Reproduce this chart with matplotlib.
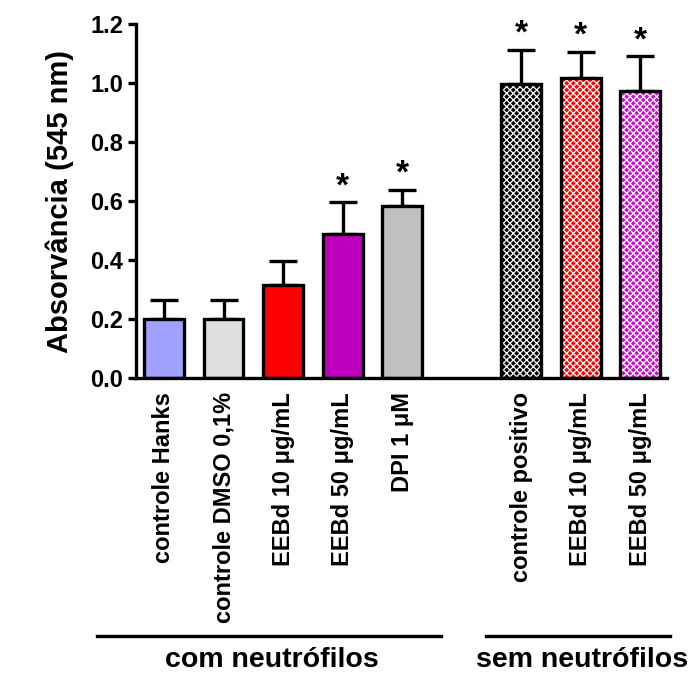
import matplotlib
matplotlib.use("Agg")
import matplotlib.pyplot as plt
import matplotlib.transforms as mtransforms

plt.rcParams['font.family'] = ['Liberation Sans', 'DejaVu Sans']
plt.rcParams['font.weight'] = 'bold'
plt.rcParams['hatch.linewidth'] = 0.9

# bar positions (slot 5 left empty between the two groups)
positions = [0, 1, 2, 3, 4, 6, 7, 8]
labels = ["controle Hanks", "controle DMSO 0,1%", "EEBd 10 \u03bcg/mL",
          "EEBd 50 \u03bcg/mL", "DPI 1 \u03bcM",
          "controle positivo", "EEBd 10 \u03bcg/mL", "EEBd 50 \u03bcg/mL"]
means = [0.200, 0.200, 0.317, 0.488, 0.583, 0.997, 1.017, 0.973]
sem = [0.065, 0.065, 0.080, 0.108, 0.056, 0.115, 0.088, 0.117]
significant = [False, False, False, True, True, True, True, True]
colors = ["#A0A0FF", "#E0E0E0", "#FF0000", "#C000C0", "#C0C0C0",
          "#000000", "#FF0000", "#CC11CC"]
hatched = [False, False, False, False, False, True, True, True]

fig = plt.figure(figsize=(6.91, 6.73), dpi=100)
ax = fig.add_axes([0.1968, 0.4383, 0.7685, 0.526])

width = 0.67
for x, m, c, h in zip(positions, means, colors, hatched):
    if h:
        ax.bar(x, m, width, color=c, edgecolor="white", hatch="xxxxx",
               linewidth=0, zorder=2)
    else:
        ax.bar(x, m, width, color=c, linewidth=0, zorder=2)
    ax.bar(x, m, width, fill=False, edgecolor="black", linewidth=2.4, zorder=3)

# upper error bars only
ax.errorbar(positions, means, yerr=[[0] * len(sem), sem], fmt="none",
            ecolor="black", elinewidth=2.4, capsize=10, capthick=2.4, zorder=1)

for x, m, s, sig in zip(positions, means, sem, significant):
    if sig:
        ax.text(x, m + s, "*", ha="center", va="bottom",
                fontsize=24, fontweight="bold")

ax.set_xlim(-0.47, 8.45)
ax.set_ylim(0, 1.2)
ax.set_yticks([0.0, 0.2, 0.4, 0.6, 0.8, 1.0, 1.2])
ax.set_yticklabels(["0.0", "0.2", "0.4", "0.6", "0.8", "1.0", "1.2"])
ax.set_xticks(positions)
ax.set_xticklabels(labels, rotation=90, fontsize=17, fontweight="bold")
ax.tick_params(axis="x", length=0, pad=10)
ax.tick_params(axis="y", direction="out", length=6, width=2.4, labelsize=17, pad=3)
for lbl in ax.get_yticklabels():
    lbl.set_fontweight("bold")
ax.set_ylabel("Absorv\u00e2ncia (545 nm)", fontsize=21, fontweight="bold", labelpad=12)

for side in ["top", "right"]:
    ax.spines[side].set_visible(False)
for side in ["left", "bottom"]:
    ax.spines[side].set_linewidth(2.4)

# group brackets under the tick labels
trans = mtransforms.blended_transform_factory(ax.transData, fig.transFigure)
groups = [("com neutr\u00f3filos", -1.13, 4.66, 1.82),
          ("sem neutr\u00f3filos", 5.41, 8.50, 7.03)]
for name, x0, x1, xc in groups:
    ax.plot([x0, x1], [0.055, 0.055], color="black", linewidth=2.4,
            transform=trans, clip_on=False)
    ax.text(xc, 0.019, name, ha="center", va="center", fontsize=20.5,
            fontweight="bold", transform=trans)

fig.savefig("out.png", dpi=100)
